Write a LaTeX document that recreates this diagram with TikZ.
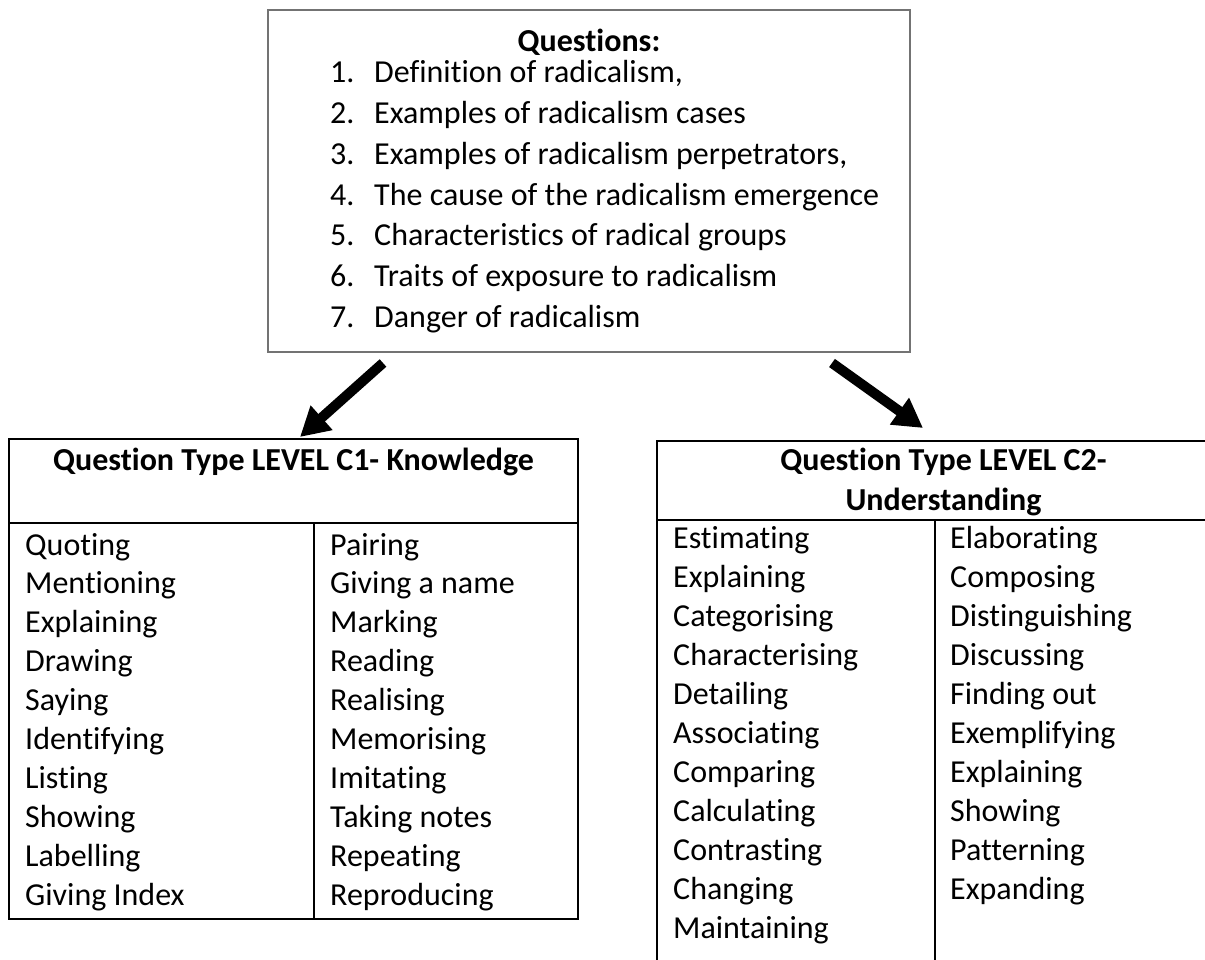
\documentclass[tikz,border=0pt]{standalone}
\usepackage{fontspec}
\setmainfont{Carlito}[Ligatures=NoCommon]
\usetikzlibrary{arrows.meta,
	calc,
	positioning}

\tikzset{
	txt/.style={anchor=base west, inner sep=0pt, font=\fontsize{32}{39}\selectfont},
	hdr/.style={anchor=base, inner sep=0pt, font=\fontsize{32}{39}\selectfont\bfseries},
	tab/.style={draw=black, line width=2pt},
	bigarrow/.style={line width=10pt, -{Triangle[length=29pt, width=31pt]}}
}

\begin{document}
\begin{tikzpicture}[x=1pt, y=-1pt]
	\useasboundingbox (0,0) rectangle (1205,960);
	\clip (0,0) rectangle (1205,960);
	\node[draw=black!55, line width=1.2pt, minimum width=642pt, minimum height=342pt, inner sep=0pt] (qbox) at (589,181) {};
	\node[hdr] (qtitle) at (589,52) {Questions:};
	\node[txt] (qn1) at (330,83) {1.};
	\node[txt] (q1) at (374,83) {Definition of radicalism,};
	\node[txt] (qn2) at (330,123.7) {2.};
	\node[txt] (q2) at (374,123.7) {Examples of radicalism cases};
	\node[txt] (qn3) at (330,164.4) {3.};
	\node[txt] (q3) at (374,164.4) {Examples of radicalism perpetrators,};
	\node[txt] (qn4) at (330,205.1) {4.};
	\node[txt] (q4) at (374,205.1) {The cause of the radicalism emergence};
	\node[txt] (qn5) at (330,245.8) {5.};
	\node[txt] (q5) at (374,245.8) {Characteristics of radical groups};
	\node[txt] (qn6) at (330,286.5) {6.};
	\node[txt] (q6) at (374,286.5) {Traits of exposure to radicalism};
	\node[txt] (qn7) at (330,327.2) {7.};
	\node[txt] (q7) at (374,327.2) {Danger of radicalism};

	\draw[tab] (9,439) rectangle (578,919);
	\draw[tab] (9,523) -- (578,523);
	\draw[tab] (314,523) -- (314,919);
	\node[hdr] (c1head) at (293.5,470) {Question Type LEVEL C1- Knowledge};
	\node[txt] (k1) at (25,555) {Quoting};
	\node[txt] (k2) at (25,593.9) {Mentioning};
	\node[txt] (k3) at (25,632.8) {Explaining};
	\node[txt] (k4) at (25,671.7) {Drawing};
	\node[txt] (k5) at (25,710.6) {Saying};
	\node[txt] (k6) at (25,749.5) {Identifying};
	\node[txt] (k7) at (25,788.4) {Listing};
	\node[txt] (k8) at (25,827.3) {Showing};
	\node[txt] (k9) at (25,866.2) {Labelling};
	\node[txt] (k10) at (25,905.1) {Giving Index};
	\node[txt] (k11) at (330,555) {Pairing};
	\node[txt] (k12) at (330,593.9) {Giving a name};
	\node[txt] (k13) at (330,632.8) {Marking};
	\node[txt] (k14) at (330,671.7) {Reading};
	\node[txt] (k15) at (330,710.6) {Realising};
	\node[txt] (k16) at (330,749.5) {Memorising};
	\node[txt] (k17) at (330,788.4) {Imitating};
	\node[txt] (k18) at (330,827.3) {Taking notes};
	\node[txt] (k19) at (330,866.2) {Repeating};
	\node[txt] (k20) at (330,905.1) {Reproducing};

	\draw[tab] (657,441) rectangle (1230,990);
	\draw[tab] (657,520) -- (1230,520);
	\draw[tab] (935,520) -- (935,990);
	\node[hdr] (c2head) at (943.5,470) {Question Type LEVEL C2-};
	\node[hdr] (c2head2) at (943.5,510) {Understanding};
	\node[txt] (u1) at (673,548) {Estimating};
	\node[txt] (u2) at (673,587) {Explaining};
	\node[txt] (u3) at (673,626) {Categorising};
	\node[txt] (u4) at (673,665) {Characterising};
	\node[txt] (u5) at (673,704) {Detailing};
	\node[txt] (u6) at (673,743) {Associating};
	\node[txt] (u7) at (673,782) {Comparing};
	\node[txt] (u8) at (673,821) {Calculating};
	\node[txt] (u9) at (673,860) {Contrasting};
	\node[txt] (u10) at (673,899) {Changing};
	\node[txt] (u11) at (673,938) {Maintaining};
	\node[txt] (u12) at (950,548) {Elaborating};
	\node[txt] (u13) at (950,587) {Composing};
	\node[txt] (u14) at (950,626) {Distinguishing};
	\node[txt] (u15) at (950,665) {Discussing};
	\node[txt] (u16) at (950,704) {Finding out};
	\node[txt] (u17) at (950,743) {Exemplifying};
	\node[txt] (u18) at (950,782) {Explaining};
	\node[txt] (u19) at (950,821) {Showing};
	\node[txt] (u20) at (950,860) {Patterning};
	\node[txt] (u21) at (950,899) {Expanding};

	\coordinate (c1tail) at (383,363);
	\coordinate (c1tip) at (300,437);
	\coordinate (c2tail) at (832,363);
	\coordinate (c2tip) at (923,428);
	\draw[bigarrow] (c1tail) -- (c1tip);
	\draw[bigarrow] (c2tail) -- (c2tip);
\end{tikzpicture}
\end{document}
